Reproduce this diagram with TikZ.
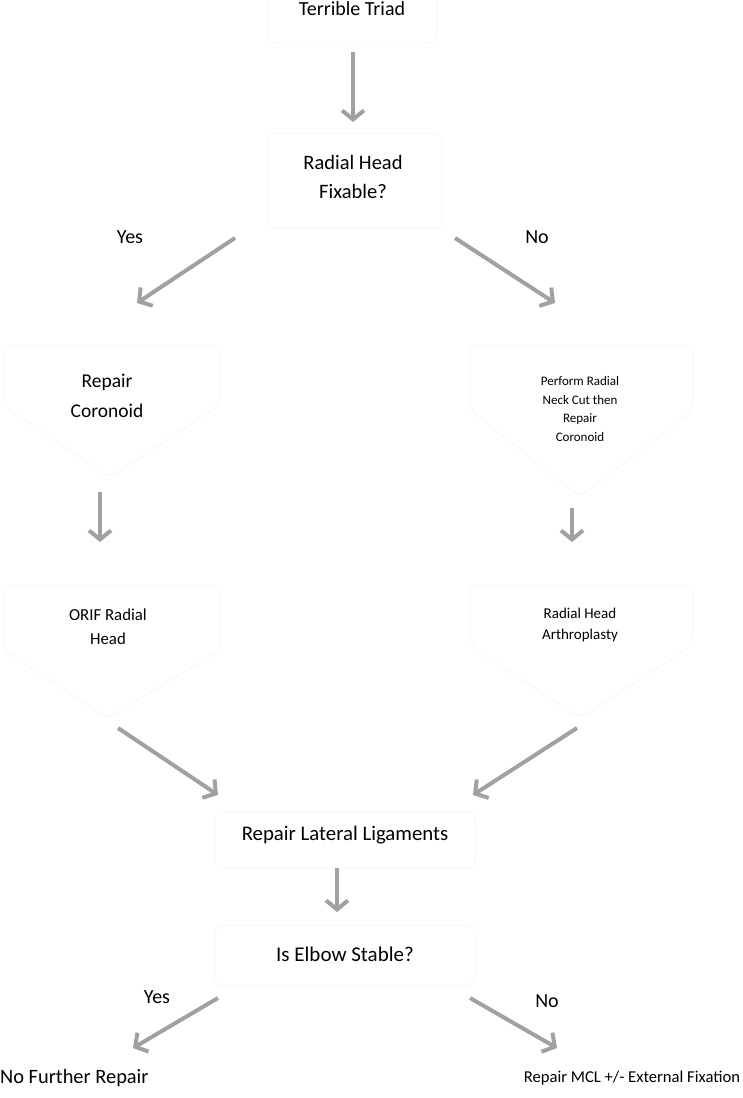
\documentclass[tikz,border=0pt]{standalone}
\usepackage{fontspec}
\setmainfont{Carlito}
\usetikzlibrary{arrows.meta,positioning}

\begin{document}
\begin{tikzpicture}[x=1pt,y=-1pt,
   txt/.style={align=center,inner sep=0pt},
   ghost/.style={draw=black!3,line width=1pt,rounded corners=8pt},
   arr/.style={draw=black!37,line width=4pt,-{Straight Barb[length=9pt,width=22pt]}}]
  \useasboundingbox (0,0) rectangle (742,1098);
  % faint boxes
  \draw[ghost] (268,-40) rectangle (437,43);
  \draw[ghost] (267,133) rectangle (442,228);
  \draw[ghost] (3,345) -- (220,345) -- (220,405) -- (110,478) -- (3,405) -- cycle;
  \draw[ghost] (470,345) -- (693,345) -- (693,410) -- (580,497) -- (470,410) -- cycle;
  \draw[ghost] (3,585) -- (220,585) -- (220,650) -- (108,718) -- (3,650) -- cycle;
  \draw[ghost] (470,585) -- (693,585) -- (693,645) -- (580,718) -- (470,645) -- cycle;
  \draw[ghost] (215,812) rectangle (475,868);
  \draw[ghost] (215,925) rectangle (475,985);
  % texts
  \node[txt,anchor=base,font=\fontsize{20}{30}\selectfont] (triad) at (352,15) {Terrible Triad};
  \node[txt,font=\fontsize{20.5}{29}\selectfont] (fix) at (353,177) {Radial Head\\Fixable?};
  \node[txt,anchor=base,font=\fontsize{20}{24}\selectfont] (yes1) at (130,243) {Yes};
  \node[txt,anchor=base,font=\fontsize{20}{24}\selectfont] (no1) at (537,243) {No};
  \node[txt,font=\fontsize{19.5}{30}\selectfont] (cor) at (107,396) {Repair\\Coronoid};
  \node[txt,font=\fontsize{13}{18.5}\selectfont] (perf) at (580,409) {Perform Radial\\Neck Cut then\\Repair\\Coronoid};
  \node[txt,font=\fontsize{16.8}{24}\selectfont] (orif) at (108,627) {ORIF Radial\\Head};
  \node[txt,font=\fontsize{15}{21}\selectfont] (arth) at (580,625) {Radial Head\\Arthroplasty};
  \node[txt,anchor=base,font=\fontsize{20.8}{24}\selectfont] (lat) at (345,840) {Repair Lateral Ligaments};
  \node[txt,anchor=base,font=\fontsize{21}{24}\selectfont] (elbow) at (345,961) {Is Elbow Stable?};
  \node[txt,anchor=base,font=\fontsize{20}{24}\selectfont] (yes2) at (157,1003) {Yes};
  \node[txt,anchor=base,font=\fontsize{20}{24}\selectfont] (no2) at (547,1007) {No};
  \node[txt,anchor=base west,font=\fontsize{20.4}{24}\selectfont] (nofur) at (0,1083) {No Further Repair};
  \node[txt,anchor=base,font=\fontsize{16.6}{24}\selectfont] (mcl) at (632,1082) {Repair MCL +/- External Fixation};
  % arrows
  \draw[arr] ([shift={(1,37)}]triad.base) -- ([shift={(0,-55)}]fix.center);
  \draw[arr] ([shift={(-118,61)}]fix.center) -- ([shift={(30,-93)}]cor.center);
  \draw[arr] ([shift={(102,61)}]fix.center) -- ([shift={(-25,-106)}]perf.center);
  \draw[arr] ([shift={(-7,96)}]cor.center) -- ([shift={(-8,-85)}]orif.center);
  \draw[arr] ([shift={(-8,99)}]perf.center) -- ([shift={(-8,-83)}]arth.center);
  \draw[arr] ([shift={(10,101)}]orif.center) -- ([shift={(-127,-45)}]lat.base);
  \draw[arr] ([shift={(-3,103)}]arth.center) -- ([shift={(128,-45)}]lat.base);
  \draw[arr] ([shift={(-8,28)}]lat.base) -- ([shift={(-8,-49)}]elbow.base);
  \draw[arr] ([shift={(-127,37)}]elbow.base) -- ([shift={(133,-35)}]nofur.base west);
  \draw[arr] ([shift={(125,37)}]elbow.base) -- ([shift={(-75,-34)}]mcl.base);
\end{tikzpicture}
\end{document}
